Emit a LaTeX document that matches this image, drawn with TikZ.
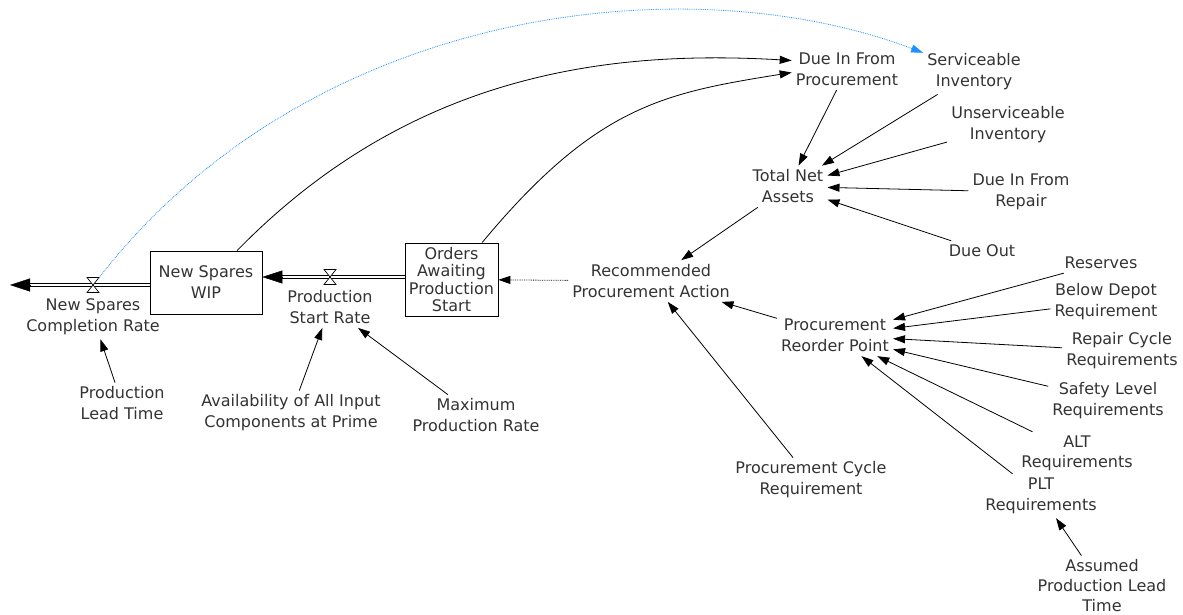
\documentclass[tikz,border=0pt]{standalone}
\usepackage{fontspec}
\setmainfont{DejaVu Sans}
\usetikzlibrary{arrows.meta}
\definecolor{txt}{RGB}{51,51,51}
\definecolor{linkblue}{RGB}{30,144,255}
\tikzset{
  var/.style={align=center, inner sep=4pt, text=txt, font=\fontsize{16}{21}\selectfont},
  stock/.style={draw, line width=0.8pt, align=center, inner sep=0pt, text=txt},
  link/.style={line width=0.8pt, -{Triangle[length=12pt,width=8pt]}},
  dotlink/.style={link, densely dotted},
  bluelink/.style={line width=0.8pt, densely dotted, linkblue, -{Triangle[length=12pt,width=8pt]}},
  pipe/.style={draw=black, line width=1pt, double=white, double distance=2.4pt},
  pipehead/.style={line width=0.4pt, -{Triangle[length=20pt,width=13pt]}},
  valve/.pic={
    \draw[fill=white, line width=0.7pt] (-6,-7.5) -- (6,-7.5) -- (0,0) -- cycle;
    \draw[fill=white, line width=0.7pt] (-6,7.5) -- (6,7.5) -- (0,0) -- cycle;
  }
}
\begin{document}
\begin{tikzpicture}[x=1pt, y=-1pt]
\useasboundingbox (0,0) rectangle (1183,615);

% stocks
\node[stock, minimum width=112pt, minimum height=63pt, font=\fontsize{16}{21}\selectfont]
  (wip) at (206,282.5) {New Spares\\WIP};
\node[stock, minimum width=93pt, minimum height=73pt, font=\fontsize{16}{17.5}\selectfont]
  (orders) at (451.5,279.5) {Orders\\Awaiting\\Production\\Start};

% valves and the sink end of the outflow
\coordinate (v1) at (330,277);
\coordinate (v2) at (93,285);
\coordinate (sink) at (10,285);

% rates
\node[var] (psr) at (330,307) {Production\\Start Rate};
\node[var] (nscr) at (93,317) {New Spares\\Completion Rate};

% auxiliaries
\node[var] (plead) at (122,403.5) {Production\\Lead Time};
\node[var] (avail) at (291,413) {Availability of All Input\\Components at Prime};
\node[var] (maxpr) at (476,415.5) {Maximum\\Production Rate};
\node[var] (rpa) at (651,281) {Recommended\\Procurement Action};
\node[var] (difp) at (847,69.5) {Due In From\\Procurement};
\node[var] (serv) at (974,72) {Serviceable\\Inventory};
\node[var] (unserv) at (1008,125) {Unserviceable\\Inventory};
\node[var] (tna) at (788,186.5) {Total Net\\Assets};
\node[var] (dirp) at (1021,192) {Due In From\\Repair};
\node[var] (dueout) at (982,251) {Due Out};
\node[var] (reserves) at (1101,263) {Reserves};
\node[var] (bdr) at (1106,302) {Below Depot\\Requirement};
\node[var] (rcr) at (1122,351) {Repair Cycle\\Requirements};
\node[var] (slr) at (1108,400.5) {Safety Level\\Requirements};
\node[var, font=\fontsize{16}{20}\selectfont] (alt) at (1077,453.5) {ALT\\Requirements};
\node[var] (pltr) at (1041,496) {PLT\\Requirements};
\node[var, font=\fontsize{16}{20}\selectfont] (aplt) at (1102,586) {Assumed\\Production Lead\\Time};
\node[var] (prp) at (835,335.5) {Procurement\\Reorder Point};
\node[var] (pcr) at (811,480) {Procurement Cycle\\Requirement};

% material flows
\draw[pipe] (orders.west |- v1) -- ([xshift=20pt]wip.east |- v1);
\draw[pipehead] ([xshift=20pt]wip.east |- v1) -- (wip.east |- v1);
\draw[pipe] (wip.west |- v2) -- ([xshift=20pt]sink);
\draw[pipehead] ([xshift=20pt]sink) -- (sink);
\pic at (v1) {valve};
\pic at (v2) {valve};

% information links
\draw[link] (plead) -- (nscr);
\draw[link] (avail) -- (psr);
\draw[link] (maxpr) -- (psr);
\draw[dotlink] (rpa) -- (orders);
\draw[link] (wip) .. controls (412,71.5) and (612,50) .. ([yshift=9pt]difp.west);
\draw[link] (orders) .. controls (596,105.5) and (664,93) .. ([yshift=-3pt]difp.west);
\draw[bluelink] ([shift={(5,-6)}]v2) .. controls (311,4) and (689,-36) .. (serv);
\draw[link] (difp) -- (tna);
\draw[link] (serv) -- (tna);
\draw[link] (unserv) -- (tna);
\draw[link] (dirp) -- (tna);
\draw[link] (dueout) -- (tna);
\draw[link] (tna) -- (rpa);
\draw[link] (prp) -- (rpa);
\draw[link] (pcr) -- (rpa);
\draw[link] (reserves) -- (prp);
\draw[link] (bdr) -- (prp);
\draw[link] (rcr) -- (prp);
\draw[link] (slr) -- (prp);
\draw[link] (alt) -- (prp);
\draw[link] (pltr) -- (prp);
\draw[link] (aplt) -- (pltr);
\end{tikzpicture}
\end{document}
